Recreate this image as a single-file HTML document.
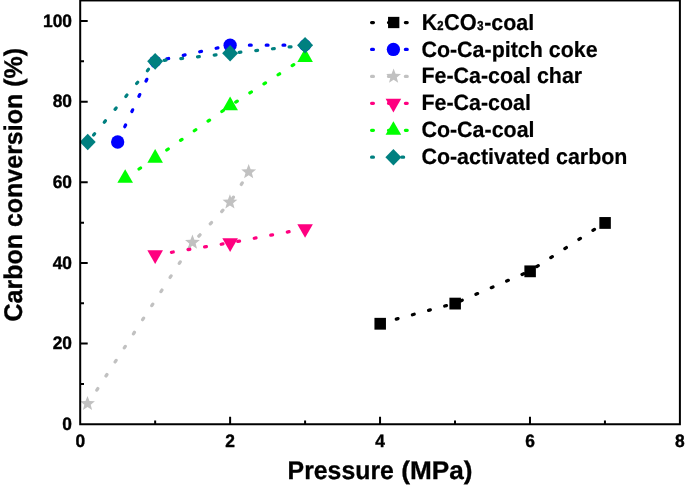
<!DOCTYPE html>
<html lang="en">
<head>
<meta charset="utf-8">
<title>Carbon conversion vs pressure</title>
<style>
html,body{margin:0;padding:0;background:#ffffff;}
body{width:685px;height:489px;overflow:hidden;}
svg{display:block;}
</style>
</head>
<body>
<svg width="685" height="489" viewBox="0 0 685 489" font-family="'Liberation Sans', Arial, Helvetica, sans-serif" font-weight="bold" text-rendering="geometricPrecision">
<rect x="0" y="0" width="685" height="489" fill="#ffffff"/>
<path d="M80.20 383.93h3.8 M80.20 343.61h7.5 M80.20 303.29h3.8 M80.20 262.97h7.5 M80.20 222.65h3.8 M80.20 182.33h7.5 M80.20 142.01h3.8 M80.20 101.69h7.5 M80.20 61.37h3.8 M80.20 21.05h7.5 M155.16 424.25v-3.8 M230.12 424.25v-7.5 M305.09 424.25v-3.8 M380.05 424.25v-7.5 M455.01 424.25v-3.8 M529.98 424.25v-7.5 M604.94 424.25v-3.8" stroke="#000" stroke-width="2.0" fill="none"/>
<path d="M380.05 323.45 L455.01 303.29 L529.98 271.03 L604.94 222.65" stroke="#000000" stroke-width="3.25" stroke-dasharray="1.8 14.92" stroke-dashoffset="-0.10" stroke-linecap="round" fill="none"/>
<rect x="374.45" y="317.85" width="11.5" height="11.8" fill="#000000"/>
<rect x="449.41" y="297.69" width="11.5" height="11.8" fill="#000000"/>
<rect x="524.38" y="265.43" width="11.5" height="11.8" fill="#000000"/>
<rect x="599.34" y="217.05" width="11.5" height="11.8" fill="#000000"/>
<path d="M117.68 142.01 L155.16 61.37 L230.12 45.24 L305.09 45.24" stroke="#0000ff" stroke-width="3.25" stroke-dasharray="1.8 15.00" stroke-dashoffset="-0.10" stroke-linecap="round" fill="none"/>
<circle cx="117.68" cy="142.01" r="6.65" fill="#0000ff"/>
<circle cx="155.16" cy="61.37" r="5.9" fill="#0000ff"/>
<circle cx="230.12" cy="45.24" r="6.65" fill="#0000ff"/>
<circle cx="305.09" cy="45.24" r="5.9" fill="#0000ff"/>
<path d="M87.70 404.09 L192.64 242.81 L230.12 202.49 L248.87 172.25" stroke="#c1c1c1" stroke-width="3.25" stroke-dasharray="1.8 15.00" stroke-dashoffset="0.10" stroke-linecap="round" fill="none"/>
<polygon points="87.50,395.89 89.47,400.98 94.91,401.28 90.69,404.73 92.08,410.00 87.50,407.04 82.91,410.00 84.31,404.73 80.08,401.28 85.52,400.98" fill="#c1c1c1"/>
<polygon points="192.44,234.61 194.42,239.70 199.86,240.00 195.63,243.45 197.03,248.72 192.44,245.76 187.86,248.72 189.25,243.45 185.03,240.00 190.47,239.70" fill="#c1c1c1"/>
<polygon points="229.93,194.29 231.90,199.38 237.34,199.68 233.11,203.13 234.51,208.40 229.93,205.44 225.34,208.40 226.74,203.13 222.51,199.68 227.95,199.38" fill="#c1c1c1"/>
<polygon points="248.67,164.05 250.64,169.14 256.08,169.44 251.86,172.89 253.25,178.16 248.67,175.20 244.08,178.16 245.48,172.89 241.25,169.44 246.69,169.14" fill="#c1c1c1"/>
<path d="M155.16 254.91 L230.12 242.81 L305.09 228.70" stroke="#ff0080" stroke-width="3.25" stroke-dasharray="1.8 15.00" stroke-dashoffset="0.30" stroke-linecap="round" fill="none"/>
<polygon points="155.16,263.97 162.96,250.37 147.36,250.37" fill="#ff0080"/>
<polygon points="230.12,251.88 237.93,238.28 222.32,238.28" fill="#ff0080"/>
<polygon points="305.09,237.76 312.89,224.16 297.29,224.16" fill="#ff0080"/>
<path d="M125.18 178.30 L155.16 158.14 L230.12 105.72 L305.09 57.34" stroke="#00ff00" stroke-width="3.25" stroke-dasharray="1.8 15.00" stroke-dashoffset="0.10" stroke-linecap="round" fill="none"/>
<polygon points="125.18,169.16 132.98,182.86 117.38,182.86" fill="#00ff00"/>
<polygon points="155.16,149.00 162.96,162.70 147.36,162.70" fill="#00ff00"/>
<polygon points="230.12,96.59 237.93,110.29 222.32,110.29" fill="#00ff00"/>
<polygon points="305.09,48.20 312.89,61.90 297.29,61.90" fill="#00ff00"/>
<path d="M93.54 135.03 L149.32 68.35" stroke="#008080" stroke-width="3.25" stroke-dasharray="1.8 15.00" stroke-dashoffset="0.10" stroke-linecap="round" fill="none"/>
<path d="M164.21 60.40 L221.08 54.28" stroke="#008080" stroke-width="3.25" stroke-dasharray="1.8 15.00" stroke-dashoffset="0.10" stroke-linecap="round" fill="none"/>
<path d="M239.17 52.33 L296.04 46.22" stroke="#008080" stroke-width="3.25" stroke-dasharray="1.8 15.00" stroke-dashoffset="0.10" stroke-linecap="round" fill="none"/>
<polygon points="87.70,133.71 95.70,142.01 87.70,150.31 79.70,142.01" fill="#008080"/>
<polygon points="155.16,53.07 163.16,61.37 155.16,69.67 147.16,61.37" fill="#008080"/>
<polygon points="230.12,45.01 238.12,53.31 230.12,61.61 222.12,53.31" fill="#008080"/>
<polygon points="305.09,36.94 313.09,45.24 305.09,53.54 297.09,45.24" fill="#008080"/>
<rect x="80.20" y="0.45" width="599.70" height="423.80" fill="none" stroke="#000" stroke-width="2.0"/>
<text transform="translate(72.0 429.95) scale(0.965 1)" font-size="18.0" text-anchor="end" stroke="#000" stroke-width="0.4">0</text>
<text transform="translate(72.0 349.31) scale(0.965 1)" font-size="18.0" text-anchor="end" stroke="#000" stroke-width="0.4">20</text>
<text transform="translate(72.0 268.67) scale(0.965 1)" font-size="18.0" text-anchor="end" stroke="#000" stroke-width="0.4">40</text>
<text transform="translate(72.0 188.03) scale(0.965 1)" font-size="18.0" text-anchor="end" stroke="#000" stroke-width="0.4">60</text>
<text transform="translate(72.0 107.39) scale(0.965 1)" font-size="18.0" text-anchor="end" stroke="#000" stroke-width="0.4">80</text>
<text transform="translate(72.0 26.75) scale(0.965 1)" font-size="18.0" text-anchor="end" stroke="#000" stroke-width="0.4">100</text>
<text transform="translate(80.20 446.6) scale(0.965 1)" font-size="18.0" text-anchor="middle" stroke="#000" stroke-width="0.4">0</text>
<text transform="translate(230.12 446.6) scale(0.965 1)" font-size="18.0" text-anchor="middle" stroke="#000" stroke-width="0.4">2</text>
<text transform="translate(380.05 446.6) scale(0.965 1)" font-size="18.0" text-anchor="middle" stroke="#000" stroke-width="0.4">4</text>
<text transform="translate(529.98 446.6) scale(0.965 1)" font-size="18.0" text-anchor="middle" stroke="#000" stroke-width="0.4">6</text>
<text transform="translate(679.90 446.6) scale(0.965 1)" font-size="18.0" text-anchor="middle" stroke="#000" stroke-width="0.4">8</text>
<text y="478.8" font-size="25.6" stroke="#000" stroke-width="0.3"><tspan x="287.6" textLength="106.28" lengthAdjust="spacingAndGlyphs">Pressure</tspan> <tspan x="401.3" textLength="71.27" lengthAdjust="spacingAndGlyphs">(MPa)</tspan></text>
<text transform="translate(21.5 184.7) rotate(-90) scale(0.976 1)" font-size="25.6" text-anchor="middle" stroke="#000" stroke-width="0.3">Carbon conversion (%)</text>
<path d="M371.60 22.50h1.8 M388.50 22.50h1.8 M405.40 22.50h1.8" stroke="#000000" stroke-width="3.25" stroke-linecap="round" fill="none"/>
<rect x="388.05" y="16.85" width="11.3" height="11.3" fill="#000000"/>
<text y="29.90" stroke="#000"><tspan x="421.80" font-size="22.8" stroke-width="0.2" textLength="15.48" lengthAdjust="spacingAndGlyphs">K</tspan><tspan x="437.20" font-size="13" stroke-width="0.45" textLength="6.22" lengthAdjust="spacingAndGlyphs">2</tspan><tspan x="444.00" font-size="22.8" stroke-width="0.2" textLength="32.72" lengthAdjust="spacingAndGlyphs">CO</tspan><tspan x="477.30" font-size="13" stroke-width="0.45" textLength="6.22" lengthAdjust="spacingAndGlyphs">3</tspan><tspan x="484.16" font-size="22.1" stroke-width="0.2" textLength="50.03" lengthAdjust="spacingAndGlyphs">-coal</tspan></text>
<path d="M371.60 49.44h1.8 M388.50 49.44h1.8 M405.40 49.44h1.8" stroke="#0000ff" stroke-width="3.25" stroke-linecap="round" fill="none"/>
<circle cx="393.40" cy="49.44" r="6.65" fill="#0000ff"/>
<text transform="translate(421.4 56.68) scale(0.97 1)" font-size="22.1" stroke="#000" stroke-width="0.2">Co-Ca-pitch coke</text>
<path d="M371.60 76.38h1.8 M388.50 76.38h1.8 M405.40 76.38h1.8" stroke="#c1c1c1" stroke-width="3.25" stroke-linecap="round" fill="none"/>
<polygon points="393.60,68.58 395.57,73.67 401.02,73.97 396.79,77.42 398.18,82.69 393.60,79.73 389.02,82.69 390.41,77.42 386.18,73.97 391.63,73.67" fill="#c1c1c1"/>
<text transform="translate(421.4 83.46) scale(0.97 1)" font-size="22.1" stroke="#000" stroke-width="0.2">Fe-Ca-coal char</text>
<path d="M371.60 103.32h1.8 M388.50 103.32h1.8 M405.40 103.32h1.8" stroke="#ff0080" stroke-width="3.25" stroke-linecap="round" fill="none"/>
<polygon points="393.40,112.39 401.20,98.79 385.60,98.79" fill="#ff0080"/>
<text transform="translate(421.4 110.24) scale(0.97 1)" font-size="22.1" stroke="#000" stroke-width="0.2">Fe-Ca-coal</text>
<path d="M371.60 130.26h1.8 M388.50 130.26h1.8 M405.40 130.26h1.8" stroke="#00ff00" stroke-width="3.25" stroke-linecap="round" fill="none"/>
<polygon points="393.40,121.13 401.20,134.83 385.60,134.83" fill="#00ff00"/>
<text transform="translate(421.4 137.02) scale(0.97 1)" font-size="22.1" stroke="#000" stroke-width="0.2">Co-Ca-coal</text>
<path d="M371.60 157.20h1.8 M401.80 157.20h1.8" stroke="#008080" stroke-width="3.25" stroke-linecap="round" fill="none"/>
<polygon points="393.40,148.90 401.40,157.20 393.40,165.50 385.40,157.20" fill="#008080"/>
<text transform="translate(421.4 163.80) scale(0.97 1)" font-size="22.1" stroke="#000" stroke-width="0.2">Co-activated carbon</text>
</svg>
</body>
</html>
